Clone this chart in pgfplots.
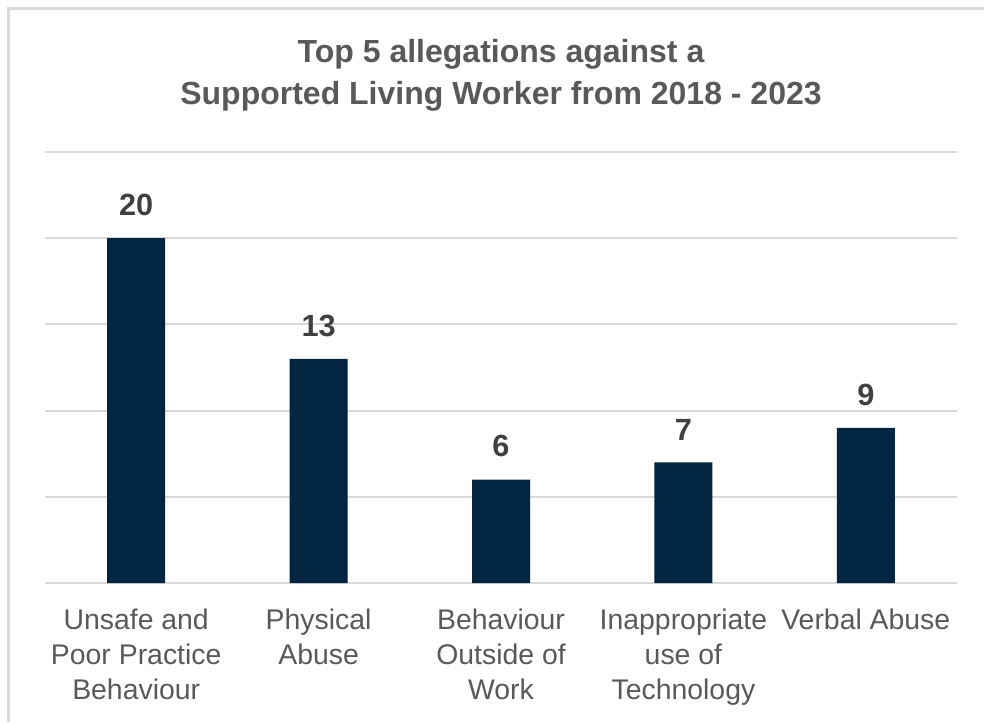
\documentclass[border=0pt]{standalone}
\usepackage{pgfplots}
\pgfplotsset{compat=1.18}
\usepackage{fontspec}
\setmainfont{Liberation Sans}
\definecolor{barc}{RGB}{2,38,66}
\definecolor{gridc}{RGB}{217,217,217}
\definecolor{txt}{RGB}{89,89,89}
\definecolor{vtxt}{RGB}{64,64,64}
\begin{document}
\begin{tikzpicture}[x=0.75pt,y=0.75pt]
\useasboundingbox (0,0) rectangle (984,722);
\draw[gridc, line width=2.25pt] (8.5,0) -- (8.5,713.5) -- (984,713.5);
\node[anchor=base, text=txt, font=\fontsize{24}{30}\selectfont\bfseries] at (501,659) {Top 5 allegations against a};
\node[anchor=base, text=txt, font=\fontsize{24}{30}\selectfont\bfseries] at (501,617) {Supported Living Worker from 2018 - 2023};
\begin{axis}[
  at={(33.75pt,104.25pt)}, anchor=south west,
  scale only axis, width=684pt, height=323.25pt,
  xmin=-0.5, xmax=4.5, ymin=0, ymax=25,
  axis line style={draw=none},
  ytick={0,5,10,15,20,25}, yticklabels={},
  ymajorgrids, grid style={gridc, line width=1.5pt},
  xtick={0,1,2,3,4},
  xticklabels={{Unsafe and\\Poor Practice\\Behaviour},{Physical\\Abuse},{Behaviour\\Outside of\\Work},{Inappropriate\\use of\\Technology},{Verbal Abuse}},
  xtick pos=bottom, ytick pos=left,
  major tick length=0pt,
  xticklabel style={align=center, anchor=north, inner sep=0pt, yshift=-19pt, text=txt, font=\fontsize{21.3}{26.25}\selectfont},
  /pgf/number format/assume math mode=true,
  nodes near coords,
  nodes near coords align=vertical,
  every node near coord/.append style={anchor=south, inner sep=0pt, yshift=16.5pt, text=vtxt, font=\fontsize{23}{26}\selectfont\bfseries},
  clip=false,
]
\addplot[ybar, bar width=43.5pt, fill=barc, draw=none] coordinates {(0,20) (1,13) (2,6) (3,7) (4,9)};
\end{axis}
\end{tikzpicture}
\end{document}
